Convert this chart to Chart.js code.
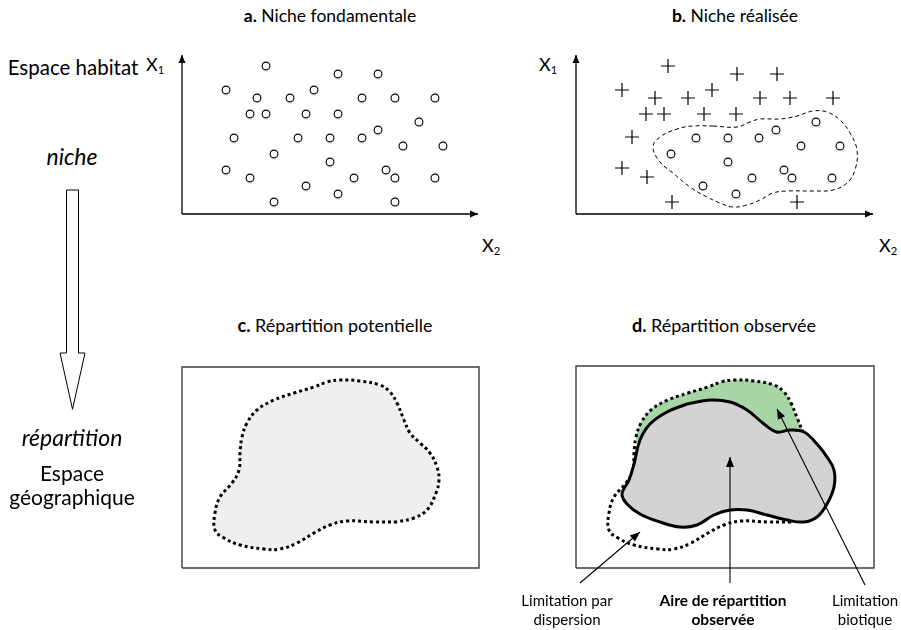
<!DOCTYPE html>
<html><head><meta charset="utf-8">
<script src="https://cdn.jsdelivr.net/npm/chart.js@4.4.1/dist/chart.umd.min.js"></script>
<style>
html,body{margin:0;padding:0;background:#fff;width:901px;height:630px;overflow:hidden;position:relative;font-family:Lato,"Open Sans",sans-serif;color:#000}
canvas{position:absolute}
.t{position:absolute;white-space:nowrap;transform:translate(-50%,-50%);line-height:1.2;text-align:center}
.tl{position:absolute;white-space:nowrap;line-height:1}
sub{font-size:0.62em;vertical-align:-0.28em}
</style></head><body>
<script>
// ---------- DATA ----------
// a. Niche fondamentale : points (X2, X1)
const fundX = [84,156,196,44,132,75,108,180,213,253,68,84,124,156,237,196,52,116,148,180,221,261,92,148,44,204,68,172,213,253,124,156,92,213];
const fundY = [148,140,140,124,124,116,116,116,116,116,100,100,100,100,92,84,76,76,76,76,68,68,60,52,44,44,36,36,36,36,28,20,12,12];
// b. Niche réalisée : occupied points (circles) and excluded points (crosses)
const realInX = [120,152,183,200,240,95,225,264,152,208,216,176,256,127,160];
const realInY = [76,76,76,84,92,60,68,68,52,44,36,36,36,28,20];
const realOutX = [92,161,201,46,136,79,112,184,214,257,70,88,128,160,56,46,71,96,221];
const realOutY = [148,140,140,124,124,116,116,116,116,116,100,100,100,100,77,46,37,12,12];
// b. dashed contour of the realised niche
const realContourX = [137,161,174,184,204,221,237,251,264,274,281,279,271,257,237,211,197,184,171,157,144,131,114,97,84,77,84,101,117];
const realContourY = [88,87,92,95,95,98,103,102,94,81,64,44,31,24,23,23,21,14,9,7,11,17,27,41,52,67,77,85,88];
// c/d. potential distribution outline (dotted)
const potX = [215,192,165,148,132,115,98,82,58,42,33,33,38,50,57,58,60,65,75,92,112,132,145,158,178,198,208,215,222,228,238,248,255,257,254,245,232];
const potY = [46,46,47,43,35,25,19,19,23,30,38,55,71,85,98,115,131,145,158,168,175,181,186,188,187,183,176,165,148,135,125,115,101,88,75,58,50];
// d. observed distribution outline (grey, solid)
const obsX = [111,134,154,171,188,201,214,228,241,251,258,258,251,241,228,211,191,171,154,138,121,104,84,64,51,46,53,58,64,74,91];
const obsY = [164,168,166,158,144,136,138,136,124,111,98,81,64,51,46,48,53,58,58,53,43,41,46,54,64,74,88,104,128,144,156];
// d. biotic limitation area (green)
const bioX = [132,145,158,178,198,208,215,222,228,228,214,201,188,171,154,134,111,91,74,64,60,65,75,92,112];
const bioY = [181,186,188,187,183,176,165,148,135,132,134,132,140,154,162,164,160,152,140,124,131,145,158,168,175];
// d. annotation arrows [startX, startY, tipX, tipY]
const arrowDispersion = [4,-15,64,36];
const arrowObserved = [154,-15,154,111];
const arrowBiotic = [289,-17,201,159];
// big hollow arrow (niche -> répartition)
const bigArrowX = [9.5,9.5,3,15.5,28,21.5,21.5];
const bigArrowY = [220,57,57,0.7,57,57,220];

// ---------- helpers ----------
const pts = (xs, ys) => xs.map((x, i) => ({x, y: ys[i]}));
const closed = (xs, ys) => { const p = pts(xs, ys); p.push({...p[0]}); return p; };
const seg = a => [{x: a[0], y: a[1]}, {x: a[2], y: a[3]}];

const arrowHeads = {
  id: 'arrowHeads',
  afterDatasetsDraw(chart) {
    const ctx = chart.ctx;
    chart.data.datasets.forEach((ds, i) => {
      if (!ds.arrowHead) return;
      const el = chart.getDatasetMeta(i).data;
      const a = el[el.length - 2], b = el[el.length - 1];
      const ang = Math.atan2(b.y - a.y, b.x - a.x);
      const L = ds.arrowHead.len, W = ds.arrowHead.half;
      ctx.save();
      ctx.translate(b.x, b.y); ctx.rotate(ang);
      ctx.beginPath(); ctx.moveTo(0, 0); ctx.lineTo(-L, -W); ctx.lineTo(-L, W); ctx.closePath();
      ctx.fillStyle = '#000'; ctx.fill();
      ctx.restore();
    });
  }
};

function makeChart(box, xr, yr, datasets, pad) {
  const P = pad || 16;
  const c = document.createElement('canvas');
  const W = box.w + 2 * P, H = box.h + 2 * P;
  c.width = W; c.height = H;
  c.style.width = W + 'px'; c.style.height = H + 'px';
  c.style.left = (box.x - P) + 'px'; c.style.top = (box.y - P) + 'px';
  document.body.appendChild(c);
  return new Chart(c, {
    type: 'scatter',
    data: {datasets},
    options: {
      responsive: false, animation: false, events: [], devicePixelRatio: 1,
      layout: {padding: P},
      plugins: {legend: {display: false}, tooltip: {enabled: false}},
      scales: {
        x: {type: 'linear', display: false, min: xr[0], max: xr[1]},
        y: {type: 'linear', display: false, min: yr[0], max: yr[1]}
      }
    },
    plugins: [arrowHeads]
  });
}

const circles = (xs, ys) => ({data: pts(xs, ys), pointStyle: 'circle', pointRadius: 3.9, borderWidth: 1.1, borderColor: '#000', backgroundColor: '#fff', clip: false, order: 1});
const crosses = (xs, ys) => ({data: pts(xs, ys), pointStyle: 'cross', pointRadius: 7, borderWidth: 1.2, borderColor: '#000', clip: false, order: 1});
const axisLine = (x1, y1) => ({data: [{x: 0, y: 0}, {x: x1, y: y1}], showLine: true, pointRadius: 0, borderColor: '#000', borderWidth: 1.3, tension: 0, clip: false, arrowHead: {len: 8, half: 3.5}, order: 3});
const arrowLine = a => ({data: seg(a), showLine: true, pointRadius: 0, borderColor: '#000', borderWidth: 1.1, tension: 0, clip: false, arrowHead: {len: 10, half: 4}, order: 0});
const frame = (w, h) => ({data: [{x: 0, y: 0}, {x: w, y: 0}, {x: w, y: h}, {x: 0, y: h}, {x: 0, y: 0}], showLine: true, pointRadius: 0, borderColor: '#3c3c3c', borderWidth: 1.4, tension: 0, clip: false, order: 9});

// a. Niche fondamentale
makeChart({x: 182, y: 55, w: 296, h: 159}, [0, 296], [0, 159], [
  axisLine(296, 0), axisLine(0, 159),
  circles(fundX, fundY)
]);

// b. Niche réalisée
makeChart({x: 576, y: 55, w: 297, h: 159}, [0, 297], [0, 159], [
  axisLine(297, 0), axisLine(0, 159),
  {data: closed(realContourX, realContourY), showLine: true, pointRadius: 0, borderColor: '#000', borderWidth: 1, borderDash: [4, 3], tension: 0.4, clip: false, order: 2},
  circles(realInX, realInY),
  crosses(realOutX, realOutY)
]);

// c. Répartition potentielle
makeChart({x: 182, y: 367, w: 297, h: 201}, [0, 297], [0, 201], [
  frame(297, 201),
  {data: closed(potX, potY), showLine: true, fill: 'shape', backgroundColor: '#efefef', pointRadius: 0, borderColor: '#000', borderWidth: 3, borderDash: [3, 3], borderCapStyle: 'butt', tension: 0.4, clip: false, order: 2}
]);

// d. Répartition observée
makeChart({x: 576, y: 366, w: 298, h: 220}, [0, 298], [-18, 202], [
  frame(298, 202),
  {data: closed(bioX, bioY), showLine: true, fill: 'shape', backgroundColor: '#a8d5a6', borderWidth: 0, borderColor: 'rgba(0,0,0,0)', pointRadius: 0, tension: 0.4, clip: false, order: 6},
  {data: closed(potX, potY), showLine: true, fill: false, pointRadius: 0, borderColor: '#000', borderWidth: 3, borderDash: [3, 3], borderCapStyle: 'butt', tension: 0.4, clip: false, order: 5},
  {data: closed(obsX, obsY), showLine: true, fill: 'shape', backgroundColor: '#d3d3d3', pointRadius: 0, borderColor: '#000', borderWidth: 3, tension: 0.4, clip: false, order: 4},
  arrowLine(arrowDispersion), arrowLine(arrowObserved), arrowLine(arrowBiotic)
], 24);

// big hollow arrow
makeChart({x: 57, y: 190, w: 30, h: 220}, [0, 30], [0, 220], [
  {data: closed(bigArrowX, bigArrowY), showLine: true, fill: 'shape', backgroundColor: '#fff', pointRadius: 0, borderColor: '#000', borderWidth: 1, tension: 0, clip: false}
]);
</script>

<div class="t" style="left:73px;top:67px;font-size:20.5px">Espace habitat</div>
<div class="tl" style="left:146px;top:55px;font-size:18px">X<sub>1</sub></div>
<div class="t" style="left:72px;top:157px;font-size:23px;font-style:italic">niche</div>
<div class="t" style="left:72px;top:438px;font-size:23px;font-style:italic">répartition</div>
<div class="t" style="left:72px;top:485px;font-size:21px;line-height:24px">Espace<br>géographique</div>

<div class="t" style="left:330px;top:15px;font-size:17.5px"><b>a.</b> Niche fondamentale</div>
<div class="t" style="left:735px;top:15px;font-size:17.5px"><b>b.</b> Niche réalisée</div>
<div class="tl" style="left:539px;top:55px;font-size:18px">X<sub>1</sub></div>
<div class="tl" style="left:482px;top:236px;font-size:18px">X<sub>2</sub></div>
<div class="tl" style="left:879px;top:236px;font-size:18px">X<sub>2</sub></div>

<div class="t" style="left:335px;top:326px;font-size:18px"><b>c.</b> Répartition potentielle</div>
<div class="t" style="left:724px;top:326px;font-size:18px"><b>d.</b> Répartition observée</div>

<div class="t" style="left:567px;top:610px;font-size:15px;line-height:19px">Limitation par<br>dispersion</div>
<div class="t" style="left:723px;top:610px;font-size:15.5px;line-height:19px;font-weight:bold">Aire de répartition<br>observée</div>
<div class="t" style="left:865px;top:610px;font-size:15px;line-height:19px">Limitation<br>biotique</div>
</body></html>
